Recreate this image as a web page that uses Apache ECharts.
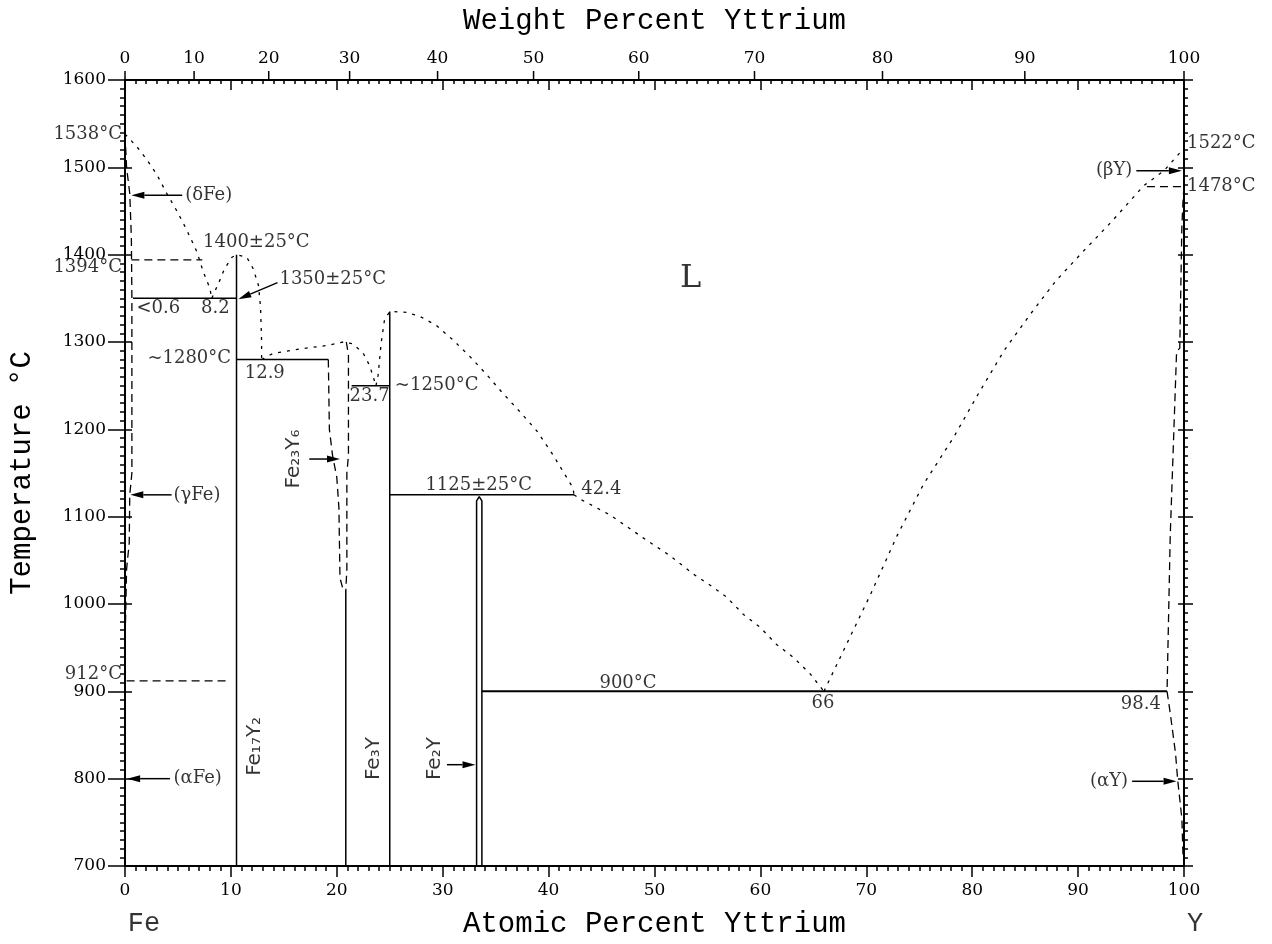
<!DOCTYPE html>
<html lang="en">
<head>
<meta charset="UTF-8">
<script src="https://cdn.jsdelivr.net/npm/echarts@6/dist/echarts.min.js"></script>
<title>Fe-Y</title>
<style>html,body{margin:0;background:#fff;}</style>
</head>
<body>
<div id="main" style="width:1272px;height:944px;"></div>
<script type="text/javascript">
    // liquidus pieces (at.% Y, °C)
    var liqFe = [[0,1538],[1.1,1524],[2.05,1509],[3.0,1492],[3.9,1471],[4.9,1450],[5.8,1429],[6.8,1403],[7.4,1380],[8.0,1362],[8.2,1350]];
    var liqFe17Y2 = [[8.2,1350],[9.0,1372],[9.4,1384],[10.1,1397],[10.55,1400],[11.5,1397],[12.1,1384],[12.6,1365],[12.8,1340],[12.9,1300],[12.9,1280]];
    var liqFe23Y6 = [[12.9,1280],[14.0,1287],[16.5,1292],[19.1,1296],[20.6,1300],[21.5,1298],[22.5,1287],[23.1,1273],[23.7,1250]];
    var liqFe3Y = [[23.7,1250],[23.9,1262],[24.2,1300],[24.5,1325],[25.0,1335],[26.6,1334],[27.9,1329],[29.4,1319],[31.0,1302],[32.6,1283],[34.2,1262],[35.7,1241],[37.3,1220],[38.9,1198],[40.4,1171],[42.3,1133],[42.4,1125]];
    var liqEut = [[42.4,1125],[43.0,1120],[45.8,1102],[48.9,1076],[51.5,1055],[53.7,1034],[55.2,1022],[56.8,1008],[58.4,988],[60.0,973],[61.5,954],[63.1,939],[64.7,920],[66,900]];
    var liqY = [[66,900],[67.9,948],[70.4,1011],[72.9,1078],[75.4,1137],[78.3,1192],[80.5,1239],[83.0,1290],[85.5,1332],[87.9,1370],[90.5,1404],[93.1,1437],[96.2,1479],[98.1,1496],[100,1522]];

    // solid solution boundaries and transus lines (dashed)
    var feSolvus = [[0,1538],[0.15,1500],[0.45,1470],[0.6,1420],[0.65,1350],[0.65,1150],[0.45,1125],[0.4,1070],[0.15,1040],[0,950]];
    var fe1394 = [[0.6,1394],[7.3,1394]];
    var fe912 = [[0.15,912],[9.9,912]];
    var fe23y6Left = [[19.2,1280],[19.3,1200],[19.6,1170],[20.0,1145],[20.2,1110],[20.3,1030],[20.6,1016]];
    var fe23y6Right = [[20.9,1300],[21.1,1285],[21.1,1170],[20.95,1150],[20.95,1040],[20.85,1016]];
    var y1478 = [[96.5,1478],[100,1478]];
    var ySolvusHigh = [[100,1478],[99.9,1460],[99.8,1433],[99.6,1293],[99.3,1289],[98.7,1078],[98.4,900]];
    var ySolvusLow = [[98.4,900],[98.7,875],[99.2,829],[99.4,799],[99.8,754],[99.9,715],[100,700]];

    // compounds and invariant lines (solid)
    var fe17y2 = [[10.53,700],[10.53,1400]];
    var fe23y6 = [[20.85,700],[20.85,1016]];
    var fe3y = [[25,700],[25,1335]];
    var fe2y = [[33.2,700],[33.2,1118],[33.45,1123],[33.7,1118],[33.7,700]];
    var eut1350 = [[0.75,1350],[10.53,1350]];
    var eut1280 = [[10.53,1280],[19.2,1280]];
    var eut1250 = [[21.4,1250],[25,1250]];
    var eut1125 = [[25,1125],[42.4,1125]];
    var eut900 = [[33.7,900],[98.4,900]];

    // arrows: tail x, tail y, tip x, tip y
    var arrows = [[5.4,1468,0.6,1468],[4.4,1125,0.5,1125],[4.25,800,0.2,800],[95.5,1496,99.8,1496],
                  [95.1,797,99.3,797],[17.4,1166,20.3,1166],[30.4,816,33.1,816],[14.4,1368,10.7,1349]];

    // text
    var textEndsAt = [['1538°C',0,1538],['1394°C',0,1386],['912°C',0,920],['~1280°C',10.3,1281],
                      ['98.4',98.1,885],['(βY)',95.4,1496],['(αY)',95.0,797]];
    var textStartsAt = [['1522°C',100,1528],['1478°C',100,1478],['1350±25°C',14.3,1372],['<0.6',0.8,1339],
                        ['8.2',6.9,1339],['~1250°C',25.2,1250],['42.4',42.8,1131],['(δFe)',5.4,1468],
                        ['(γFe)',4.3,1125],['(αFe)',4.3,800]];
    var textCentered = [['1400±25°C',12.4,1414],['12.9',13.2,1264],['23.7',23.1,1238],['1125±25°C',33.4,1136],
                        ['900°C',47.5,909],['66',65.9,886]];
    var phaseL = [['L',53.4,1372]];
    var compounds = [['Fe₁₇Y₂',12.3,837],['Fe₂₃Y₆',15.9,1166],['Fe₃Y',23.5,823],['Fe₂Y',29.3,823]];
    var elements = [['Fe',0,700],['Y',100,700]];

    // top axis tick labels in weight percent
    var wtTicks = [0,10,20,30,40,50,60,70,80,90,100];
    var massFe = 55.845, massY = 88.906;

    function wtToAt(w) {
        var ny = w / massY, nf = (100 - w) / massFe;
        return 100 * ny / (ny + nf);
    }

    var serif = 'DejaVu Serif';
    var mono = 'Liberation Mono';
    var shortDash = [3, 6];
    var longDash = [8, 5];

    function line(data, dash, width) {
        return {
            type: 'line', data: data, showSymbol: false, symbol: 'none', silent: true,
            lineStyle: {color: '#000', width: width || 1.5, type: dash || 'solid'},
            z: 3
        };
    }

    function textSeries(list, label) {
        return {
            type: 'scatter', symbolSize: 0, silent: true, clip: false, z: 5,
            data: list.map(function (t) { return {value: [t[1], t[2]], name: t[0]}; }),
            label: Object.assign({show: true, formatter: '{b}', color: '#000', fontFamily: serif, fontSize: 18}, label)
        };
    }

    var myChart = echarts.init(document.getElementById('main'));

    var axisLine = {onZero: false, lineStyle: {color: '#000', width: 2}};
    var noLine = {show: false, onZero: false};
    var tickStyle = {color: '#000', width: 1.5};
    var plain = function (v) { return String(v); };

    var option = {
        animation: false,
        backgroundColor: '#fff',
        grid: {left: 125, right: 88, top: 80, bottom: 74},
        xAxis: [
            {
                type: 'value', min: 0, max: 100, interval: 10, position: 'bottom',
                axisLine: axisLine,
                axisTick: {length: 11, lineStyle: tickStyle},
                minorTick: {show: true, splitNumber: 10, length: 5, lineStyle: tickStyle},
                axisLabel: {margin: 16, color: '#000', fontFamily: serif, fontSize: 17, formatter: plain},
                splitLine: {show: false},
                name: 'Atomic Percent Yttrium', nameLocation: 'middle', nameGap: 44,
                nameTextStyle: {fontFamily: mono, fontSize: 29, color: '#000'}
            },
            {
                type: 'value', min: 0, max: 100, interval: 10, position: 'top',
                axisLine: axisLine,
                axisTick: {inside: true, length: 10, lineStyle: tickStyle},
                minorTick: {show: true, splitNumber: 10, length: 4, lineStyle: tickStyle},
                axisLabel: {show: false},
                splitLine: {show: false},
                name: 'Weight Percent Yttrium', nameLocation: 'middle', nameGap: 44,
                nameTextStyle: {fontFamily: mono, fontSize: 29, color: '#000'}
            }
        ],
        yAxis: [
            {
                type: 'value', min: 700, max: 1600, interval: 100, position: 'left',
                axisLine: axisLine,
                axisTick: {length: 17, lineStyle: tickStyle},
                minorTick: {show: true, splitNumber: 10, length: 5, lineStyle: tickStyle},
                axisLabel: {margin: 19, color: '#000', fontFamily: serif, fontSize: 17, formatter: plain},
                splitLine: {show: false},
                name: 'Temperature °C', nameLocation: 'middle', nameGap: 88,
                nameTextStyle: {fontFamily: mono, fontSize: 29, color: '#000'}
            },
            {
                type: 'value', min: 700, max: 1600, interval: 100, position: 'right',
                axisLine: axisLine,
                axisTick: {length: 9, lineStyle: tickStyle},
                minorTick: {show: true, splitNumber: 10, length: 4, lineStyle: tickStyle},
                axisLabel: {show: false},
                splitLine: {show: false}
            },
            {
                // inner half of the major ticks, left
                type: 'value', min: 700, max: 1600, interval: 100, position: 'left',
                axisLine: noLine,
                axisTick: {inside: true, length: 7, lineStyle: tickStyle},
                axisLabel: {show: false},
                splitLine: {show: false}
            },
            {
                type: 'value', min: 700, max: 1600, interval: 100, position: 'right',
                axisLine: noLine,
                axisTick: {inside: true, length: 6, lineStyle: tickStyle},
                axisLabel: {show: false},
                splitLine: {show: false}
            }
        ],
        series: [
            line(liqFe, shortDash, 1.3),
            line(liqFe17Y2, shortDash, 1.3),
            line(liqFe23Y6, shortDash, 1.3),
            line(liqFe3Y, shortDash, 1.3),
            line(liqEut, shortDash, 1.3),
            line(liqY, shortDash, 1.3),
            line(feSolvus, longDash, 1.3),
            line(fe1394, longDash, 1.3),
            line(fe912, longDash, 1.3),
            line(fe23y6Left, longDash, 1.3),
            line(fe23y6Right, longDash, 1.3),
            line(y1478, longDash, 1.3),
            line(ySolvusHigh, longDash, 1.3),
            line(ySolvusLow, longDash, 1.3),
            line(fe17y2), line(fe23y6), line(fe3y), line(fe2y),
            line(eut1350), line(eut1280), line(eut1250), line(eut1125),
            line(eut900, null, 2),
            {
                type: 'custom', silent: true, z: 4,
                data: arrows,
                encode: {x: [0, 2], y: [1, 3]},
                renderItem: function (params, api) {
                    var a = api.coord([api.value(0), api.value(1)]);
                    var b = api.coord([api.value(2), api.value(3)]);
                    var dx = b[0] - a[0], dy = b[1] - a[1];
                    var len = Math.sqrt(dx * dx + dy * dy);
                    var ux = dx / len, uy = dy / len;
                    var hl = 13, hw = 3.5;
                    var bx = b[0] - ux * hl, by = b[1] - uy * hl;
                    return {
                        type: 'group',
                        children: [
                            {type: 'line', shape: {x1: a[0], y1: a[1], x2: bx, y2: by},
                             style: {stroke: '#000', lineWidth: 1.5}},
                            {type: 'polygon', shape: {points: [[b[0], b[1]],
                                [bx - uy * hw, by + ux * hw], [bx + uy * hw, by - ux * hw]]},
                             style: {fill: '#000'}}
                        ]
                    };
                }
            },
            {
                type: 'custom', silent: true, clip: false, z: 4,
                data: wtTicks.map(function (w) { return [wtToAt(w), w]; }),
                renderItem: function (params, api) {
                    var p = api.coord([api.value(0), 1600]);
                    return {
                        type: 'group',
                        children: [
                            {type: 'line', shape: {x1: p[0], y1: p[1], x2: p[0], y2: p[1] - 9},
                             style: {stroke: '#000', lineWidth: 1.5}},
                            {type: 'text', x: p[0], y: p[1] - 13,
                             style: {text: String(api.value(1)), fill: '#000', font: '17px ' + serif,
                                     textAlign: 'center', textVerticalAlign: 'bottom'}}
                        ]
                    };
                }
            },
            textSeries(textEndsAt, {position: 'left', distance: 3}),
            textSeries(textStartsAt, {position: 'right', distance: 3}),
            textSeries(textCentered, {position: 'inside'}),
            textSeries(phaseL, {position: 'inside', fontSize: 32}),
            textSeries(compounds, {position: 'inside', rotate: 90, fontFamily: 'DejaVu Sans', fontSize: 20}),
            {
                type: 'scatter', symbolSize: 0, silent: true, clip: false, z: 5,
                data: [
                    {value: [elements[0][1], elements[0][2]], name: elements[0][0], label: {offset: [19, 58]}},
                    {value: [elements[1][1], elements[1][2]], name: elements[1][0], label: {offset: [11, 58]}}
                ],
                label: {show: true, position: 'inside', formatter: '{b}', color: '#000', fontFamily: mono, fontSize: 27}
            }
        ]
    };
    myChart.setOption(option);
</script>
</body>
</html>
